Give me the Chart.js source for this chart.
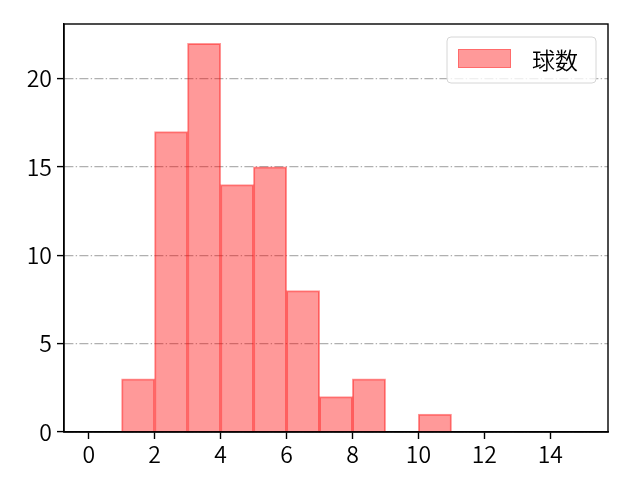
<!DOCTYPE html>
<html>
<head>
<meta charset="utf-8">
<script src="https://cdn.jsdelivr.net/npm/chart.js@4"></script>
<style>
html,body{margin:0;padding:0;background:#fff;}
#wrap{width:640px;height:480px;}
</style>
</head>
<body>
<div id="wrap"><canvas id="c" width="640" height="480"></canvas></div>
<script>
// Histogram bins (left edges) and counts
const binEdges = [0,1,2,3,4,5,6,7,8,9,10,11,12,13,14];
const counts   = [0,3,17,22,14,15,8,2,3,0,1,0,0,0,0];
const xTicks = [0,2,4,6,8,10,12,14];
const yTicks = [0,5,10,15,20];
const seriesLabel = '球数';

const FONT = "'Noto Sans CJK JP', 'Noto Sans', sans-serif";
const FS = 23;
const FW = 350;

const points = binEdges.map((e,i)=>({x:e+0.5, y:counts[i]}));

const frame = {
  id:'frame',
  afterDraw(chart){
    const {ctx, chartArea:a} = chart;
    ctx.save();
    ctx.setLineDash([]);
    ctx.strokeStyle = '#000';
    ctx.lineWidth = 1.4;
    ctx.strokeRect(a.left, a.top, a.right-a.left, a.bottom-a.top);
    // legend
    const ds = chart.data.datasets[0];
    const bx = 447, by = 37, bw = 149, bh = 46, r = 4;
    ctx.beginPath();
    ctx.moveTo(bx+r,by);
    ctx.lineTo(bx+bw-r,by); ctx.quadraticCurveTo(bx+bw,by,bx+bw,by+r);
    ctx.lineTo(bx+bw,by+bh-r); ctx.quadraticCurveTo(bx+bw,by+bh,bx+bw-r,by+bh);
    ctx.lineTo(bx+r,by+bh); ctx.quadraticCurveTo(bx,by+bh,bx,by+bh-r);
    ctx.lineTo(bx,by+r); ctx.quadraticCurveTo(bx,by,bx+r,by);
    ctx.closePath();
    ctx.fillStyle='rgba(255,255,255,0.8)';
    ctx.fill();
    ctx.strokeStyle='#d6d6d6';
    ctx.lineWidth=1;
    ctx.stroke();
    ctx.fillStyle = ds.backgroundColor;
    ctx.fillRect(458,49,53,19);
    ctx.strokeStyle = 'rgba(255,0,0,0.3)';
    ctx.strokeRect(458.5,49.5,52,18);
    ctx.fillStyle='#000';
    ctx.font = FW+' '+FS+'px '+FONT;
    ctx.textBaseline='middle';
    ctx.textAlign='left';
    ctx.fillText(ds.label, 532, 60);
    ctx.restore();
  }
};

new Chart(document.getElementById('c'), {
  type:'bar',
  data:{
    datasets:[{
      label: seriesLabel,
      data: points,
      backgroundColor:'rgba(255,0,0,0.4)',
      borderColor:'rgba(255,0,0,0.4)',
      borderWidth:1,
      inflateAmount:0.5,
      barPercentage:1,
      categoryPercentage:1,
      grouped:false
    }]
  },
  options:{
    responsive:false,
    animation:false,
    devicePixelRatio:1,
    layout:{padding:{top:24,right:32,left:0,bottom:0}},
    plugins:{legend:{display:false},tooltip:{enabled:false}},
    scales:{
      x:{
        type:'linear',
        min:-0.75, max:15.75,
        offset:false,
        afterBuildTicks(s){ s.ticks = xTicks.map(v=>({value:v})); },
        afterFit(s){ s.height = 48; },
        grid:{offset:false, drawOnChartArea:false, drawTicks:true, tickLength:7, tickColor:'#000', tickWidth:1.4},
        border:{display:true, color:'#000', width:1.4},
        ticks:{color:'#000', font:{family:FONT, size:FS, weight:FW}, padding:1, maxRotation:0, autoSkip:false}
      },
      y:{
        min:0, max:23.1,
        z:1,
        afterBuildTicks(s){ s.ticks = yTicks.map(v=>({value:v})); },
        afterFit(s){ s.width = 64; },
        grid:{color:'#b0b0b0', lineWidth:1.2, drawTicks:true, tickLength:7, tickColor:'#000', tickWidth:1.4, tickBorderDash:[]},
        border:{display:true, color:'#000', width:1.4, dash:[9,2.3,1.4,2.3]},
        ticks:{color:'#000', font:{family:FONT, size:FS, weight:FW}, padding:5, autoSkip:false}
      }
    }
  },
  plugins:[frame]
});
</script>
</body>
</html>
